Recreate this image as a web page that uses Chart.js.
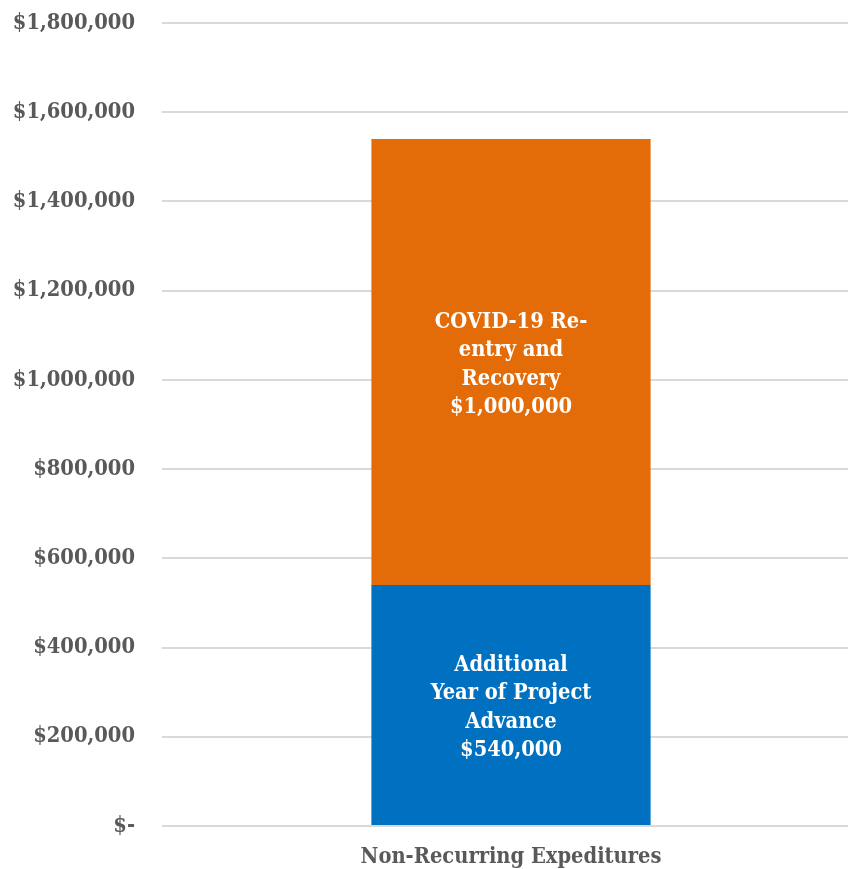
<!DOCTYPE html>
<html>
<head>
<meta charset="utf-8">
<script src="https://cdn.jsdelivr.net/npm/chart.js@4.4.1/dist/chart.umd.min.js"></script>
<style>
  html, body { margin: 0; padding: 0; background: #ffffff; overflow: hidden; }
  #wrap { position: relative; width: 860px; height: 899px; margin-top: -17px; }
</style>
</head>
<body>
<div id="wrap"><canvas id="chart"></canvas></div>
<script>
// Non-recurring expenditure breakdown
const categories = ['Non-Recurring Expeditures'];
const seriesNames = ['Additional Year of Project Advance', 'COVID-19 Re-entry and Recovery'];
const projectAdvance = [540000];
const covidRecovery = [1000000];
const barLabelsAdvance = [['Additional', 'Year of Project', 'Advance', '$540,000']];
const barLabelsCovid = [['COVID-19 Re-', 'entry and', 'Recovery', '$1,000,000']];
const yTicks = [0, 200000, 400000, 600000, 800000, 1000000, 1200000, 1400000, 1600000, 1800000];

const FONT = '"DejaVu Serif Condensed", "DejaVu Serif", serif';
const FONT_SIZE = 21.7;

function money(v) {
  if (v === 0) return '$-';
  return '$' + v.toLocaleString('en-US');
}

// Draw the multi-line white labels centred inside each stacked segment
const segmentLabels = {
  id: 'segmentLabels',
  afterDatasetsDraw(chart) {
    const ctx = chart.ctx;
    ctx.save();
    ctx.fillStyle = '#ffffff';
    ctx.font = 'bold ' + FONT_SIZE + 'px ' + FONT;
    ctx.textAlign = 'center';
    ctx.textBaseline = 'middle';
    const lineH = 28.5;
    chart.data.datasets.forEach((ds, di) => {
      const meta = chart.getDatasetMeta(di);
      meta.data.forEach((bar, i) => {
        const lines = ds.labelLines[i];
        const cy = (bar.y + bar.base) / 2 + 3;
        const start = cy - (lines.length - 1) * lineH / 2;
        lines.forEach((t, k) => ctx.fillText(t, bar.x, start + k * lineH));
      });
    });
    ctx.restore();
  }
};

new Chart(document.getElementById('chart'), {
  type: 'bar',
  data: {
    labels: categories,
    datasets: [
      { label: seriesNames[0], data: projectAdvance, backgroundColor: '#0070C0', labelLines: barLabelsAdvance,
        categoryPercentage: 1, barPercentage: 0.4 },
      { label: seriesNames[1], data: covidRecovery, backgroundColor: '#E36C09', labelLines: barLabelsCovid,
        categoryPercentage: 1, barPercentage: 0.4 }
    ]
  },
  options: {
    responsive: true,
    maintainAspectRatio: false,
    animation: false,
    layout: { padding: { top: 10, left: 0, right: 0, bottom: 2 } },
    plugins: { legend: { display: false }, tooltip: { enabled: false } },
    scales: {
      x: {
        stacked: true,
        grid: { display: false },
        border: { display: false },
        ticks: { color: '#595959', font: { family: FONT, size: FONT_SIZE, weight: 'bold' }, padding: 10 }
      },
      y: {
        stacked: true,
        min: 0,
        max: 1800000,
        afterBuildTicks(axis) { axis.ticks = yTicks.map(v => ({ value: v })); },
        afterFit(axis) { axis.width = 162; },
        grid: { color: '#d9d9d9', lineWidth: 2, drawTicks: false },
        border: { display: false },
        ticks: {
          color: '#595959',
          font: { family: FONT, size: FONT_SIZE, weight: 'bold' },
          padding: 27,
          callback: v => money(v)
        }
      }
    }
  },
  plugins: [segmentLabels]
});
</script>
</body>
</html>
